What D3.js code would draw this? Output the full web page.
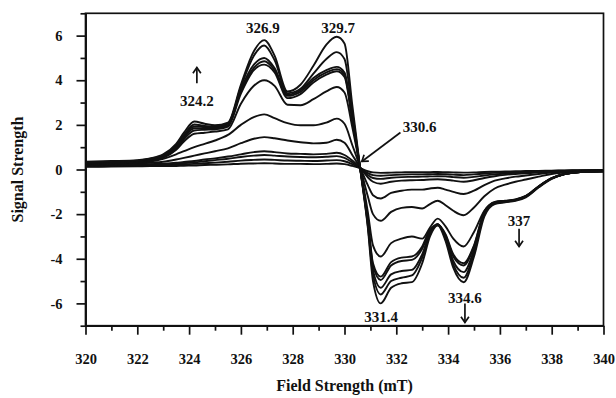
<!DOCTYPE html>
<html><head><meta charset="utf-8">
<script src="https://cdn.jsdelivr.net/npm/d3@7"></script>
<style>body{margin:0;background:#fff}svg{display:block}</style>
</head><body>
<svg id="c" width="616" height="398"></svg>
<script>
// ---------- data ----------
const fieldPoints = [320, 321, 322, 322.5, 323, 323.5, 323.8, 324.2, 324.6, 325, 325.5, 326, 326.5, 326.9, 327.3, 327.8, 328.3, 328.8, 329.3, 329.7, 330.0, 330.3, 330.6, 330.9, 331.1, 331.4, 331.8, 332.2, 332.6, 333.0, 333.3, 333.6, 333.9, 334.2, 334.6, 335.0, 335.4, 335.8, 336.2, 336.6, 337.0, 337.5, 338.0, 338.5, 339.0, 340.0];

const spectrum1 = [0.35, 0.38, 0.42, 0.5, 0.68, 1.15, 1.65, 2.15, 2.05, 1.98, 2.1, 3.8, 5.3, 5.8, 5.1, 3.5, 3.8, 4.65, 5.6, 5.95, 5.65, 2.9, 0.1, -2.6, -5.0, -6.0, -5.3, -5.1, -5.05, -4.2, -3.0, -2.5, -3.2, -4.4, -5.05, -3.9, -2.1, -1.55, -1.47, -1.4, -1.25, -0.8, -0.42, -0.2, -0.12, -0.08];
const spectrum2 = [0.32, 0.35, 0.4, 0.48, 0.64, 1.08, 1.55, 2.02, 1.95, 1.92, 2.05, 3.7, 5.1, 5.56, 4.9, 3.42, 3.62, 4.3, 4.95, 5.26, 4.95, 2.6, 0.1, -2.5, -4.7, -5.6, -5.0, -4.85, -4.75, -3.95, -2.9, -2.45, -3.1, -4.25, -4.85, -3.75, -2.0, -1.52, -1.45, -1.38, -1.22, -0.78, -0.4, -0.2, -0.12, -0.08];
const spectrum3 = [0.3, 0.33, 0.38, 0.46, 0.6, 1.02, 1.48, 1.93, 1.9, 1.88, 2.0, 3.6, 4.7, 5.0, 4.55, 3.35, 3.55, 4.1, 4.45, 4.6, 4.35, 2.3, 0.1, -2.4, -4.5, -5.3, -4.7, -4.55, -4.5, -3.8, -2.85, -2.45, -3.05, -4.1, -4.6, -3.6, -1.95, -1.5, -1.44, -1.37, -1.2, -0.77, -0.4, -0.2, -0.12, -0.08];
const spectrum4 = [0.28, 0.31, 0.36, 0.44, 0.58, 0.98, 1.42, 1.85, 1.84, 1.84, 1.96, 3.5, 4.55, 4.85, 4.45, 3.3, 3.48, 4.0, 4.35, 4.5, 4.25, 2.25, 0.1, -2.3, -4.3, -4.95, -4.3, -4.1, -4.05, -3.55, -2.75, -2.45, -2.95, -3.9, -4.3, -3.45, -1.9, -1.48, -1.42, -1.36, -1.2, -0.76, -0.4, -0.2, -0.12, -0.08];
const spectrum5 = [0.26, 0.29, 0.34, 0.42, 0.55, 0.93, 1.35, 1.75, 1.78, 1.8, 1.92, 3.4, 4.45, 4.7, 4.35, 3.2, 3.38, 3.9, 4.25, 4.4, 4.15, 2.2, 0.1, -2.25, -4.2, -4.8, -4.15, -3.95, -3.9, -3.45, -2.7, -2.5, -2.9, -3.8, -4.2, -3.4, -1.88, -1.47, -1.41, -1.35, -1.19, -0.75, -0.39, -0.2, -0.12, -0.08];
const spectrum6 = [0.25, 0.27, 0.32, 0.4, 0.52, 0.88, 1.25, 1.6, 1.65, 1.7, 1.8, 2.95, 3.75, 4.0, 3.75, 2.9, 2.88, 3.15, 3.5, 3.7, 3.45, 1.9, 0.1, -1.9, -3.4, -3.9, -3.3, -3.1, -3.0, -3.1, -2.6, -2.2, -2.55, -3.1, -3.45, -2.8, -1.85, -1.45, -1.4, -1.34, -1.18, -0.75, -0.39, -0.2, -0.12, -0.08];
const spectrum7 = [0.22, 0.24, 0.3, 0.36, 0.48, 0.68, 0.82, 1.0, 1.15, 1.3, 1.55, 2.0, 2.35, 2.47, 2.3, 2.08, 1.98, 1.98, 2.1, 2.28, 2.05, 1.1, 0.1, -1.2, -2.0, -2.3, -1.9, -1.72, -1.68, -1.75, -1.55, -1.4, -1.6, -1.85, -2.05, -1.7, -1.2, -0.85, -0.68, -0.55, -0.45, -0.32, -0.2, -0.14, -0.1, -0.06];
const spectrum8 = [0.2, 0.22, 0.26, 0.3, 0.35, 0.45, 0.52, 0.62, 0.72, 0.82, 0.95, 1.18, 1.38, 1.45, 1.4, 1.3, 1.22, 1.17, 1.2, 1.33, 1.2, 0.65, 0.08, -0.7, -1.15, -1.3, -1.05, -0.95, -0.9, -0.9, -0.85, -0.82, -0.9, -1.0, -1.1, -0.95, -0.7, -0.5, -0.4, -0.32, -0.27, -0.2, -0.14, -0.1, -0.08, -0.05];
const spectrum9 = [0.18, 0.2, 0.22, 0.24, 0.26, 0.3, 0.34, 0.38, 0.45, 0.5, 0.58, 0.68, 0.78, 0.82, 0.78, 0.72, 0.7, 0.68, 0.7, 0.75, 0.65, 0.4, 0.08, -0.35, -0.55, -0.64, -0.55, -0.5, -0.48, -0.47, -0.45, -0.44, -0.46, -0.5, -0.55, -0.48, -0.38, -0.3, -0.24, -0.2, -0.17, -0.13, -0.1, -0.07, -0.06, -0.04];
const spectrum10 = [0.16, 0.18, 0.2, 0.21, 0.22, 0.26, 0.29, 0.32, 0.37, 0.42, 0.48, 0.56, 0.62, 0.65, 0.62, 0.58, 0.56, 0.55, 0.57, 0.6, 0.52, 0.32, 0.08, -0.25, -0.38, -0.42, -0.37, -0.34, -0.33, -0.32, -0.31, -0.3, -0.31, -0.34, -0.37, -0.33, -0.27, -0.22, -0.18, -0.15, -0.13, -0.1, -0.08, -0.06, -0.05, -0.03];
const spectrum11 = [0.14, 0.15, 0.17, 0.18, 0.19, 0.21, 0.23, 0.25, 0.28, 0.31, 0.35, 0.4, 0.43, 0.45, 0.43, 0.4, 0.39, 0.38, 0.4, 0.42, 0.37, 0.24, 0.07, -0.16, -0.25, -0.28, -0.25, -0.23, -0.22, -0.22, -0.21, -0.2, -0.21, -0.23, -0.25, -0.22, -0.18, -0.15, -0.13, -0.11, -0.1, -0.08, -0.06, -0.05, -0.04, -0.03];
const spectrum12 = [0.12, 0.13, 0.14, 0.15, 0.15, 0.16, 0.17, 0.18, 0.2, 0.21, 0.23, 0.26, 0.27, 0.28, 0.27, 0.25, 0.25, 0.24, 0.25, 0.27, 0.24, 0.16, 0.06, -0.08, -0.13, -0.15, -0.14, -0.13, -0.12, -0.12, -0.12, -0.11, -0.12, -0.13, -0.14, -0.13, -0.11, -0.1, -0.09, -0.08, -0.07, -0.06, -0.05, -0.04, -0.03, -0.02];

const spectra = [spectrum1, spectrum2, spectrum3, spectrum4, spectrum5, spectrum6, spectrum7, spectrum8, spectrum9, spectrum10, spectrum11, spectrum12];

const xTickValues = [320, 322, 324, 326, 328, 330, 332, 334, 336, 338, 340];
const yTickValues = [-6, -4, -2, 0, 2, 4, 6];

const annotationLabels = ["326.9", "329.7", "324.2", "330.6", "337", "334.6", "331.4"];
const annotationField = [326.85, 329.75, 324.3, 332.9, 336.74, 334.65, 331.41];
const annotationSignal = [6.35, 6.35, 3.09, 1.93, -2.29, -5.74, -6.59];

// arrows: [fromField, fromSignal, toField, toSignal]
const arrowSpecs = [
  [324.3, 3.86, 324.3, 4.57],
  [332.16, 1.66, 330.67, 0.36],
  [336.74, -2.65, 336.74, -3.45],
  [334.65, -6.0, 334.65, -6.86]
];

// ---------- drawing ----------
const svg = d3.select("#c");
const FONT = "'Liberation Serif','Times New Roman',serif";
const x = d3.scaleLinear().domain([320, 340]).range([85.5, 603.5]);
const y = d3.scaleLinear().domain([-7, 7]).range([325.7, 13.3]);

// frame
svg.append("rect").attr("x", x(320)).attr("y", y(7))
  .attr("width", x(340) - x(320)).attr("height", y(-7) - y(7))
  .attr("fill", "none").attr("stroke", "#111").attr("stroke-width", 1.7);

// x axis minor + major
svg.append("g").attr("transform", `translate(0,${y(-7)})`)
  .call(d3.axisBottom(x).tickValues(d3.range(321, 340, 2)).tickSize(5).tickFormat("").tickSizeOuter(0));
svg.append("g").attr("transform", `translate(0,${y(-7)})`)
  .call(d3.axisBottom(x).tickValues(xTickValues).tickSize(9).tickPadding(19).tickSizeOuter(0));
svg.append("g").attr("transform", `translate(${x(320)},0)`)
  .call(d3.axisLeft(y).tickValues(d3.range(-7, 8, 2)).tickSize(5).tickFormat("").tickSizeOuter(0));
const gy = svg.append("g").attr("transform", `translate(${x(320)},0)`)
  .call(d3.axisLeft(y).tickValues(yTickValues).tickSize(9).tickPadding(14).tickSizeOuter(0).tickFormat(d3.format("d")));

svg.selectAll(".domain").attr("stroke", "#111").attr("stroke-width", 1.7);
svg.selectAll(".tick line").attr("stroke", "#111").attr("stroke-width", 1.7);
svg.selectAll(".tick text").attr("font-family", FONT).attr("font-weight", "bold")
  .attr("font-size", 14.5).attr("fill", "#111");
gy.selectAll(".tick text").text(d => d < 0 ? "-" + Math.abs(d) : d);

// axis titles
svg.append("text").attr("x", (x(320) + x(340)) / 2).attr("y", 391)
  .attr("text-anchor", "middle").attr("font-family", FONT).attr("font-weight", "bold")
  .attr("font-size", 16).attr("fill", "#111").text("Field Strength (mT)");
svg.append("text").attr("transform", `translate(23,${y(0)}) rotate(-90)`)
  .attr("text-anchor", "middle").attr("font-family", FONT).attr("font-weight", "bold")
  .attr("font-size", 16).attr("fill", "#111").text("Signal Strength");

// spectra
const line = d3.line()
  .x((d, i) => x(fieldPoints[i]))
  .y(d => y(d))
  .curve(d3.curveMonotoneX);

svg.append("g").selectAll("path").data(spectra.slice().reverse()).join("path")
  .attr("d", d => line(d))
  .attr("fill", "none").attr("stroke", "#111")
  .attr("stroke-width", 1.9).attr("stroke-linejoin", "round");

// annotations
svg.append("g").selectAll("text").data(annotationLabels).join("text")
  .attr("x", (d, i) => x(annotationField[i]))
  .attr("y", (d, i) => y(annotationSignal[i]))
  .attr("dy", "0.35em")
  .attr("text-anchor", "middle").attr("font-family", FONT).attr("font-weight", "bold")
  .attr("font-size", 15).attr("fill", "#111").text(d => d);

// arrows
const ag = svg.append("g").attr("stroke", "#111").attr("stroke-width", 1.7).attr("fill", "none");
arrowSpecs.forEach(([fx, fy, tx, ty]) => {
  const x1 = x(fx), y1 = y(fy), x2 = x(tx), y2 = y(ty);
  ag.append("line").attr("x1", x1).attr("y1", y1).attr("x2", x2).attr("y2", y2);
  const ang = Math.atan2(y2 - y1, x2 - x1);
  const L = 7, spread = 0.6;
  const p1 = [x2 - L * Math.cos(ang - spread), y2 - L * Math.sin(ang - spread)];
  const p2 = [x2 - L * Math.cos(ang + spread), y2 - L * Math.sin(ang + spread)];
  ag.append("path").attr("d", `M${p1[0]},${p1[1]}L${x2},${y2}L${p2[0]},${p2[1]}`)
    .attr("stroke-linejoin", "miter");
});
</script>
</body></html>
